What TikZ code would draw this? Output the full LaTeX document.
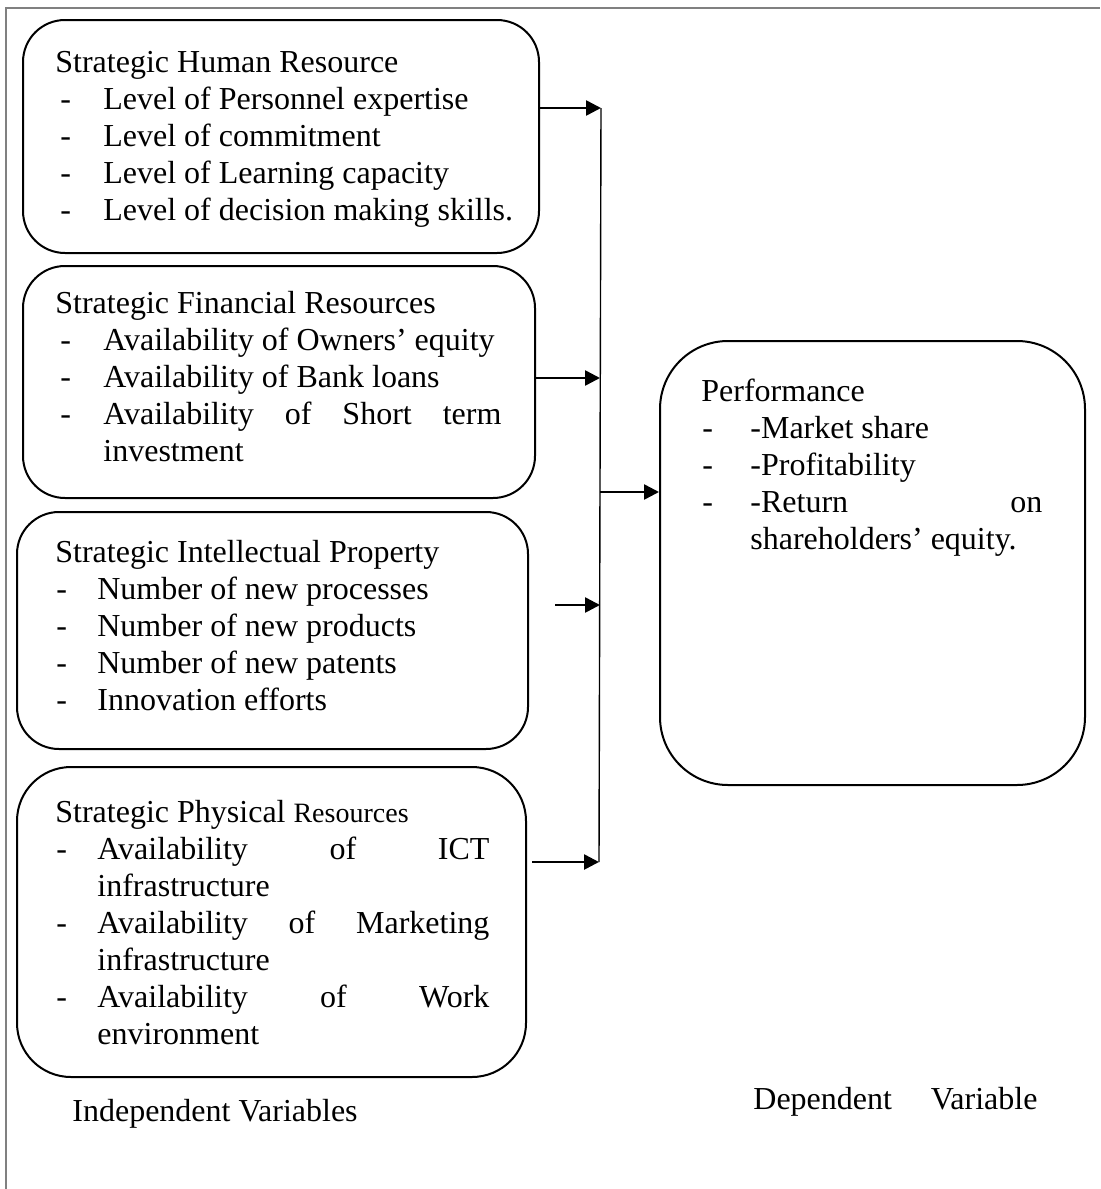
\documentclass[tikz,border=0pt]{standalone}
\usepackage{fontspec}
\setmainfont{Liberation Serif}
\usetikzlibrary{arrows.meta}
\newcommand{\dla}{\makebox[24pt][l]{\hspace{2.5pt}-}}
\newcommand{\dlb}{\makebox[21pt][l]{\hspace{0.5pt}-}}
\newcommand{\dlc}{\makebox[24.5pt][l]{\hspace{0.5pt}-}}
\newcommand{\nla}{\hspace*{24pt}}
\newcommand{\nlb}{\hspace*{21pt}}
\newcommand{\nlc}{\hspace*{24.5pt}}
\begin{document}
\begin{tikzpicture}[x=0.5pt,y=-0.5pt,
  box/.style={draw=black, line width=1pt, rectangle, inner sep=0pt},
  txt/.style={anchor=base west, inner sep=0pt, font=\fontsize{16}{18.5}\selectfont},
  arr/.style={line width=1.3pt, -{Triangle[length=7.5pt,width=7.5pt]}},
  bus/.style={line width=0.7pt},
  frame/.style={draw=black!50, line width=0.8pt}]
\useasboundingbox (0,0) rectangle (1100,1189);
\fill[white] (0,0) rectangle (1100,1189);
% frame
\draw[frame] (6,1189) -- (6,8) -- (1100,8);
% boxes
\node[box, rounded corners=21pt, minimum width=258pt, minimum height=116.5pt] (b1) at (281,136.5) {};
\node[box, rounded corners=21pt, minimum width=256pt, minimum height=116pt] (b2) at (279,382) {};
\node[box, rounded corners=21pt, minimum width=255.5pt, minimum height=118.5pt] (b3) at (272.5,630.5) {};
\node[box, rounded corners=27pt, minimum width=254.5pt, minimum height=155pt] (b4) at (271.5,922) {};
\node[box, rounded corners=34pt, minimum width=212.5pt, minimum height=222pt] (perf) at (872.5,563) {};
% texts
\node[txt] (t1) at (55,72) {\begin{tabular}[t]{@{}l@{}}
Strategic Human Resource\\
\dla Level of Personnel expertise\\
\dla Level of commitment\\
\dla Level of Learning capacity\\
\dla Level of decision making skills.
\end{tabular}};
\node[txt] (t2) at (55,313) {\begin{tabular}[t]{@{}l@{}}
Strategic Financial Resources\\
\dla Availability of Owners’ equity\\
\dla Availability of Bank loans\\
\dla \makebox[199pt][s]{Availability of Short term}\\
\nla investment
\end{tabular}};
\node[txt] (t3) at (55,562) {\begin{tabular}[t]{@{}l@{}}
Strategic Intellectual Property\\
\dlb Number of new processes\\
\dlb Number of new products\\
\dlb Number of new patents\\
\dlb Innovation efforts
\end{tabular}};
\node[txt] (t4) at (55,822) {\begin{tabular}[t]{@{}l@{}}
Strategic Physical {\fontsize{14}{18.5}\selectfont Resources}\\
\dlb \makebox[196pt][s]{Availability of ICT}\\
\nlb infrastructure\\
\dlb \makebox[196pt][s]{Availability of Marketing}\\
\nlb infrastructure\\
\dlb \makebox[196pt][s]{Availability of Work}\\
\nlb environment
\end{tabular}};
\node[txt] (t5) at (701,401) {\begin{tabular}[t]{@{}l@{}}
Performance\\
\dlc -Market share\\
\dlc -Profitability\\
\dlc \makebox[146pt][s]{-Return on}\\
\nlc shareholders’ equity.
\end{tabular}};
\node[txt] (indep) at (72,1121) {Independent Variables};
\node[txt] (dep) at (753,1109) {\makebox[142pt][s]{Dependent Variable}};
% bus and connectors
\coordinate (bustop) at (601,108);
\coordinate (busbot) at (599,862);
\coordinate (j2) at (600,378);
\coordinate (j3) at (600,605);
\coordinate (j5) at (600,492);
\coordinate (s3) at (555,605);
\coordinate (s4) at (532,862);
\draw[bus] (bustop) -- (busbot);
\draw[arr] (b1.east |- bustop) -- (bustop);
\draw[arr] (b2.east |- j2) -- (j2);
\draw[arr] (s3) -- (j3);
\draw[arr] (s4) -- (busbot);
\draw[arr] (j5) -- (perf.west |- j5);
\end{tikzpicture}
\end{document}
